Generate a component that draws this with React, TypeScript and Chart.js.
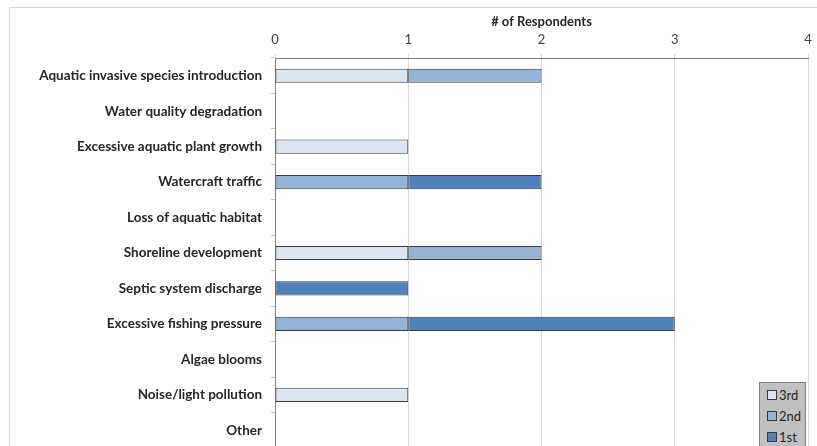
import React, { useEffect, useRef } from "react";
import { Chart, registerables } from "chart.js";

Chart.register(...registerables);

const categories = [
  "Aquatic invasive species introduction",
  "Water quality degradation",
  "Excessive aquatic plant growth",
  "Watercraft traffic",
  "Loss of aquatic habitat",
  "Shoreline development",
  "Septic system discharge",
  "Excessive fishing pressure",
  "Algae blooms",
  "Noise/light pollution",
  "Other",
];

const third = [1, 0, 1, 0, 0, 1, 0, 0, 0, 1, 0];
const second = [1, 0, 0, 1, 0, 1, 0, 1, 0, 0, 0];
const first = [0, 0, 0, 1, 0, 0, 1, 2, 0, 0, 0];

const seriesNames = ["3rd", "2nd", "1st"];
const seriesColors = ["#dce6f2", "#95b3d7", "#4f81bd"];
const xTicks = [0, 1, 2, 3, 4];
const axisTitle = "# of Respondents";

const FONT = "Lato, 'Open Sans', sans-serif";

const borderPlugin = {
  id: "outerBorder",
  beforeDraw(chart: any) {
    const ctx = chart.ctx;
    ctx.save();
    ctx.strokeStyle = "#d9d9d9";
    ctx.lineWidth = 1;
    ctx.strokeRect(9.5, 7.5, chart.width + 20, chart.height + 20);
    ctx.restore();
  },
};

export default function App() {
  const ref = useRef<HTMLCanvasElement>(null);

  useEffect(() => {
    document.body.style.margin = "0";
    const toData = (arr: number[]) => arr.map((v) => (v === 0 ? null : v));
    const series = [third, second, first];
    const chart = new Chart(ref.current!, {
      type: "bar",
      data: {
        labels: categories,
        datasets: series.map((s, i) => ({
          label: seriesNames[i],
          data: toData(s),
          backgroundColor: seriesColors[i],
          borderColor: "#3a3a3a",
          borderWidth: 1,
          borderSkipped: false,
          categoryPercentage: 1,
          barPercentage: 0.4,
        })),
      },
      options: {
        indexAxis: "y",
        responsive: false,
        animation: false,
        maintainAspectRatio: false,
        layout: { padding: { left: 0, right: 9, top: 0, bottom: 12 } },
        plugins: {
          legend: { display: false },
          tooltip: { enabled: false },
        },
        scales: {
          x: {
            position: "top",
            stacked: true,
            min: 0,
            max: 4,
            afterBuildTicks: (scale: any) => {
              scale.ticks = xTicks.map((v) => ({ value: v }));
            },
            afterFit: (scale: any) => {
              scale.height = 58;
              scale.paddingLeft = 0;
              scale.paddingRight = 0;
            },
            ticks: {
              color: "#404040",
              font: { family: FONT, size: 13 },
              padding: 6,
            },
            grid: {
              color: "#d9d9d9",
              tickLength: 4,
              tickColor: "#d9d9d9",
            },
            border: { display: true, color: "#7f7f7f", width: 1 },
            title: {
              display: true,
              text: axisTitle,
              color: "#262626",
              font: { family: FONT, size: 13, weight: "bold" },
              padding: { top: 14, bottom: 0 },
            },
          },
          y: {
            stacked: true,
            afterFit: (scale: any) => {
              scale.width = 275;
              scale.paddingTop = 0;
              scale.paddingBottom = 0;
            },
            ticks: {
              color: "#262626",
              font: { family: FONT, size: 13.5, weight: "bold" },
              padding: 9,
            },
            grid: {
              drawOnChartArea: false,
              tickLength: 4,
              color: "#bfbfbf",
              offset: true,
            },
            border: { display: true, color: "#7f7f7f", width: 1 },
          },
        },
      },
      plugins: [borderPlugin],
    });
    return () => chart.destroy();
  }, []);

  return (
    <div style={{ position: "relative", width: 817, height: 446, overflow: "hidden" }}>
      <canvas ref={ref} width={817} height={460} style={{ position: "absolute", left: 0, top: 0 }} />
      <div
        style={{
          position: "absolute",
          left: 759,
          top: 382,
          width: 47,
          height: 70,
          background: "#c0c0c0",
          border: "1px solid #7f7f7f",
          boxSizing: "border-box",
          fontFamily: FONT,
          fontSize: 13,
          color: "#262626",
          paddingTop: 1,
        }}
      >
        {seriesNames.map((n, i) => (
          <div key={n} style={{ display: "flex", alignItems: "center", height: 21, paddingLeft: 7 }}>
            <span
              style={{
                display: "inline-block",
                width: 8,
                height: 8,
                background: seriesColors[i],
                border: "1px solid #3a3a3a",
                marginRight: 2,
              }}
            />
            <span>{n}</span>
          </div>
        ))}
      </div>
    </div>
  );
}
